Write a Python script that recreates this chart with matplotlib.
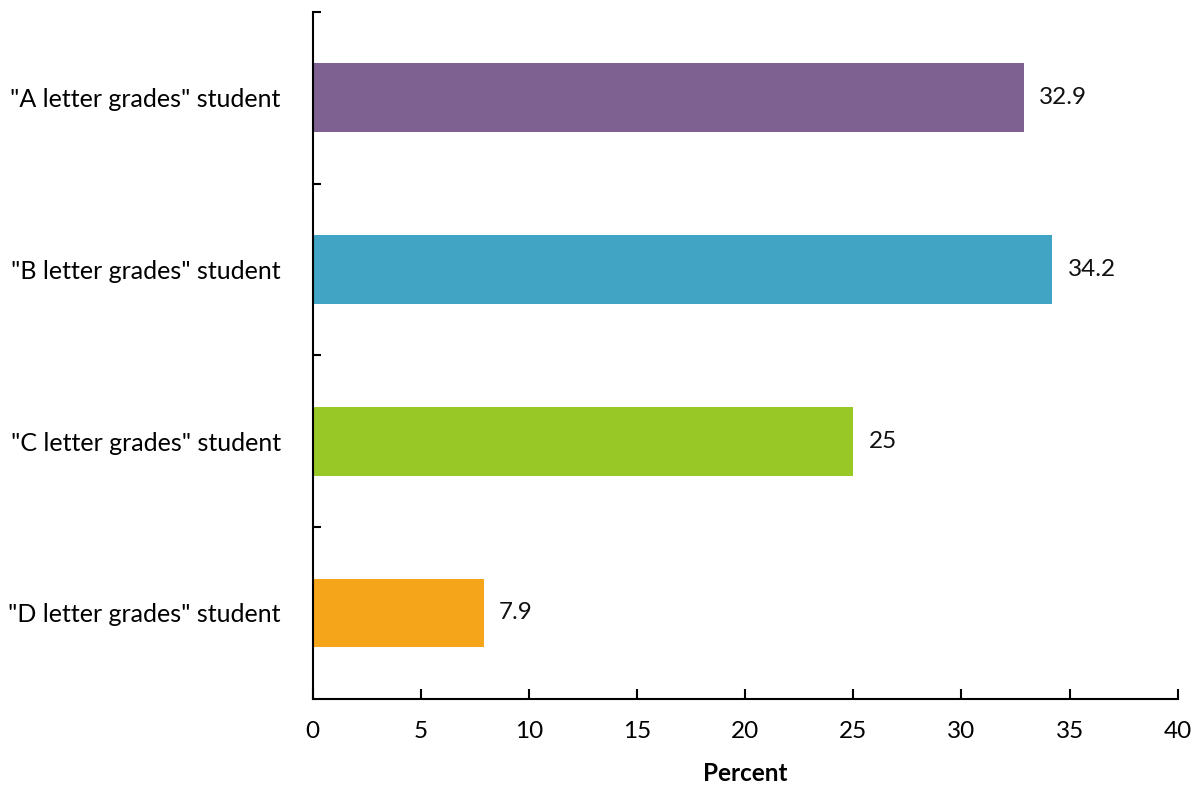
import matplotlib

matplotlib.use("Agg")
import matplotlib.pyplot as plt  # noqa: E402
import numpy as np  # noqa: E402

CATEGORIES = [
    '"A letter grades" student',
    '"B letter grades" student',
    '"C letter grades" student',
    '"D letter grades" student',
]
VALUES = [32.9, 34.2, 25, 7.9]
VALUE_LABELS = ["32.9", "34.2", "25", "7.9"]
COLORS = ["#7E6191", "#41A4C4", "#97C826", "#F5A51A"]
X_TICKS = [0, 5, 10, 15, 20, 25, 30, 35, 40]

plt.rcParams["font.family"] = ["Lato", "DejaVu Sans"]
FS = 17.5

fig = plt.figure(figsize=(12.03, 7.87), dpi=100)
ax = fig.add_axes([0.260, 0.112, 0.719, 0.873])

y = np.arange(len(CATEGORIES))[::-1]
ax.barh(y, VALUES, height=0.4, color=COLORS)
for yi, v, lab in zip(y, VALUES, VALUE_LABELS):
    ax.text(v + 0.7, yi, lab, va="center", ha="left", fontsize=FS, color="#111111")

ax.set_xlim(0, 40)
ax.set_ylim(-0.5, len(CATEGORIES) - 0.5)
ax.set_xticks(X_TICKS)
ax.set_xticklabels([str(t) for t in X_TICKS], fontsize=FS)
ax.set_yticks(np.arange(len(CATEGORIES)) + 0.5)
ax.set_yticklabels([])
ax.set_yticks(y, minor=True)
ax.set_yticklabels(CATEGORIES, minor=True, fontsize=18)
ax.tick_params(axis="y", which="minor", length=0, pad=23)
ax.tick_params(axis="y", which="major", direction="in", length=6, width=1.5)
ax.tick_params(axis="x", direction="in", length=7, width=1.5, pad=16)

for s in ("top", "right"):
    ax.spines[s].set_visible(False)
for s in ("left", "bottom"):
    ax.spines[s].set_linewidth(1.5)

ax.set_xlabel("Percent", fontsize=FS, fontweight="bold", labelpad=14)

fig.savefig("out.png", dpi=100)
